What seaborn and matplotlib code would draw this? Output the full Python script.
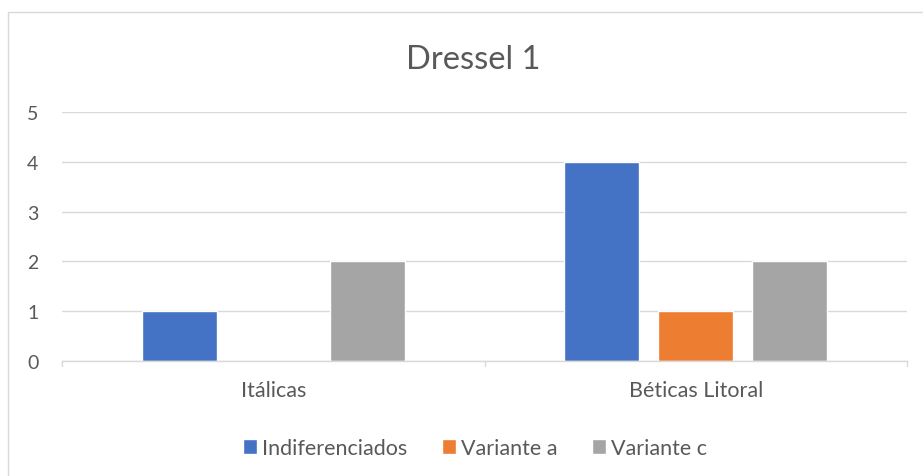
import matplotlib
matplotlib.use("Agg")
import matplotlib.pyplot as plt
import seaborn as sns
import pandas as pd
from matplotlib.patches import Rectangle

categories = ["Itálicas", "Béticas Litoral"]
series = ["Indiferenciados", "Variante a", "Variante c"]
indiferenciados = [1, 4]
variante_a = [0, 1]
variante_c = [2, 2]
colors = ["#4472C4", "#ED7D31", "#A5A5A5"]

rows = []
for s, vals in zip(series, [indiferenciados, variante_a, variante_c]):
    for c, v in zip(categories, vals):
        rows.append({"cat": c, "serie": s, "val": v})
df = pd.DataFrame(rows)

sns.set_theme(style="white")
plt.rcParams['font.family'] = ['Lato', 'DejaVu Sans']
txt = "#595959"

fig = plt.figure(figsize=(9.23, 4.77), dpi=100)
ax = fig.add_axes([62/923, 1-362/477, (907-62)/923, (362-113)/477])

sns.barplot(data=df, x="cat", y="val", hue="serie", order=categories,
            hue_order=series, palette=colors, width=0.667, gap=0.2,
            saturation=1, ax=ax, legend=True)

ax.set_ylim(0, 5)
ax.set_xlim(-0.5, 1.5)
ax.set_yticks(range(0, 6))
ax.yaxis.grid(True, color="#D9D9D9", linewidth=1)
ax.set_axisbelow(True)
for sp in ["top", "right", "left"]:
    ax.spines[sp].set_visible(False)
ax.spines["bottom"].set_color("#D9D9D9")
ax.spines["bottom"].set_linewidth(1)
ax.tick_params(axis="y", length=0, labelsize=14, labelcolor=txt, pad=17)
ax.tick_params(axis="x", length=0, labelsize=15.5, labelcolor=txt, pad=14)
ax.set_xlabel("")
ax.set_ylabel("")
for xv in [-0.5, 0.5, 1.5]:
    ax.plot([xv, xv], [0, -0.1], color="#D9D9D9", lw=1, clip_on=False)

ax.set_title("Dressel 1", fontsize=23.5, color=txt, pad=32, x=(473-62)/845)

leg = ax.legend(loc="upper center", bbox_to_anchor=((475-62)/845, -0.232), ncol=3,
                frameon=False, fontsize=15.5, handlelength=0.65, handleheight=0.65,
                handletextpad=0.25, columnspacing=1.6)
for t in leg.get_texts():
    t.set_color(txt)

fig.patches.append(Rectangle((8/923, -0.1), 1.2, 1 - 13/477 + 0.1,
                             transform=fig.transFigure, fill=False,
                             edgecolor="#D9D9D9", linewidth=1))

fig.savefig("out.png", dpi=100)
